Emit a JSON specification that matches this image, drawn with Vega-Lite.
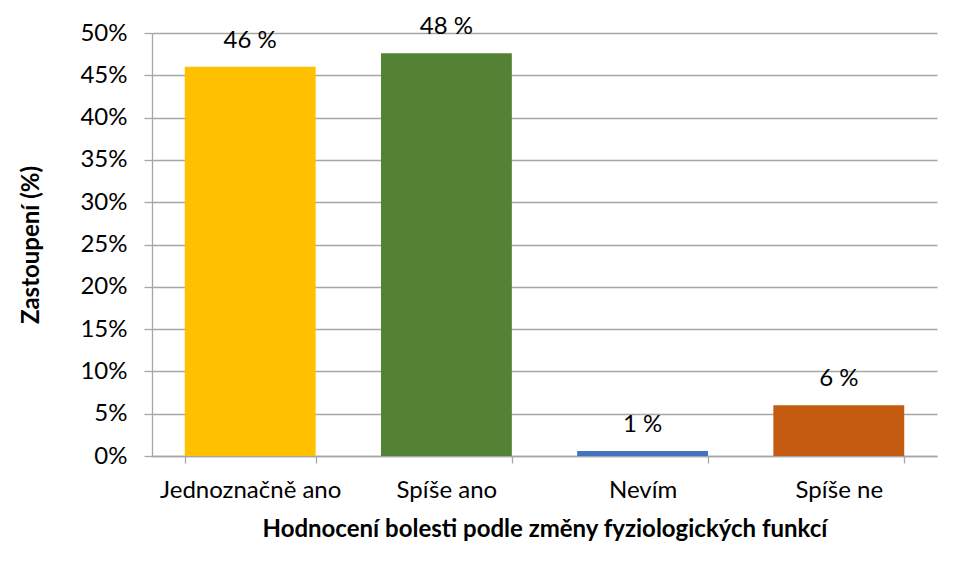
{
  "$schema": "https://vega.github.io/schema/vega-lite/v6.json",
  "autosize": {"type": "none"},
  "width": 785,
  "height": 423,
  "padding": {"left": 152, "top": 33, "right": 16, "bottom": 117},
  "background": "white",
  "data": {"values": [
    {"kategorie": "Jednoznačně ano", "podil": 0.46, "popisek": "46 %"},
    {"kategorie": "Spíše ano", "podil": 0.476, "popisek": "48 %"},
    {"kategorie": "Nevím", "podil": 0.006, "popisek": "1 %"},
    {"kategorie": "Spíše ne", "podil": 0.06, "popisek": "6 %"}
  ]},
  "encoding": {
    "x": {
      "field": "kategorie", "type": "nominal", "sort": null,
      "scale": {"paddingInner": 0.333, "paddingOuter": 0.167},
      "axis": {
        "title": "Hodnocení bolesti podle změny fyziologických funkcí",
        "labelAngle": 0, "tickBand": "extent", "tickSize": 7, "grid": false,
        "labelPadding": 15, "titlePadding": 15, "labelLimit": 0
      }
    },
    "y": {
      "field": "podil", "type": "quantitative",
      "scale": {"domain": [0, 0.5]},
      "axis": {
        "title": "Zastoupení (%)", "format": ".0%", "values": [0,0.05,0.1,0.15,0.2,0.25,0.3,0.35,0.4,0.45,0.5],
        "tickSize": 8, "labelPadding": 17, "titlePadding": 36
      }
    }
  },
  "layer": [
    {
      "mark": {"type": "bar"},
      "encoding": {
        "color": {
          "field": "kategorie", "type": "nominal", "legend": null,
          "scale": {"domain": ["Jednoznačně ano", "Spíše ano", "Nevím", "Spíše ne"],
                    "range": ["#FFC000", "#548235", "#4472C4", "#C55A11"]}
        }
      }
    },
    {
      "mark": {"type": "text", "baseline": "alphabetic", "dy": -19, "fontSize": 24, "font": "Lato", "color": "#000000"},
      "encoding": {"text": {"field": "popisek"}}
    }
  ],
  "config": {
    "view": {"stroke": null},
    "axis": {
      "labelFont": "Lato", "labelFontSize": 24, "labelColor": "#000000",
      "titleFont": "Lato", "titleFontSize": 24, "titleFontWeight": "bold", "titleColor": "#000000",
      "domainColor": "#a6a6a6", "tickColor": "#a6a6a6", "gridColor": "#a6a6a6",
      "domainWidth": 1.3, "tickWidth": 1.3, "gridWidth": 1.3
    }
  }
}
